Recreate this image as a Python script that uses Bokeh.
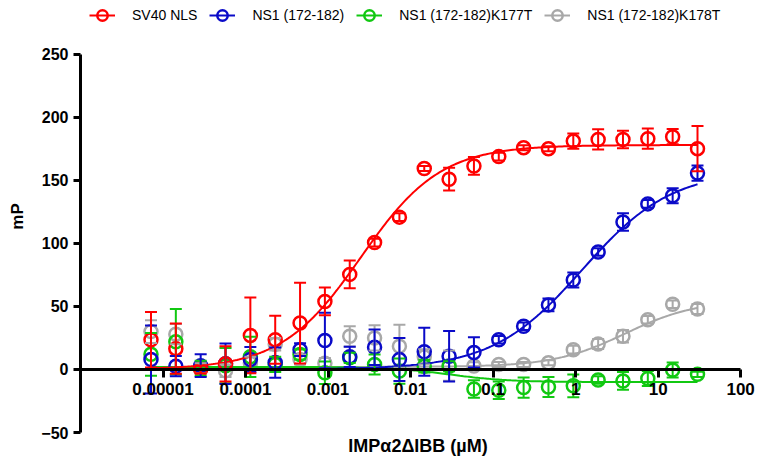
import numpy as np
from bokeh.plotting import figure
from bokeh.models import (LinearAxis, FixedTicker, CustomJSTickFormatter, Whisker, TeeHead,
                          ColumnDataSource, Legend, LegendItem, Range1d)
from bokeh.embed import file_html
from bokeh.resources import INLINE

# ---------------- data ----------------
conc_uM = [7.15e-6, 1.43e-5, 2.86e-5, 5.72e-5, 1.144e-4, 2.289e-4, 4.578e-4, 9.155e-4,
           1.831e-3, 3.662e-3, 7.324e-3, 1.465e-2, 2.930e-2, 5.859e-2, 0.1172, 0.2344,
           0.4688, 0.9375, 1.875, 3.75, 7.5, 15.0, 30.0]

sv40_mean = [23.6, 16.5, 0.0, 4.5, 27.0, 23.6, 36.8, 53.9, 75.4, 100.6, 120.8, 159.4,
             150.9, 161.4, 168.8, 175.9, 175.1, 181.1, 182.4, 182.4, 183.0, 184.6, 175.1]
sv40_sd = [22, 20, 3, 14, 30, 19, 32, 11, 11, 3, 3, 2, 9, 7, 3, 2, 2, 6, 8, 7, 8, 6, 18]

ns1_mean = [7.9, 2.6, 3.0, 4.5, 7.9, 5.5, 15.7, 23.0, 10.0, 17.6, 7.9, 14.0, 10.5, 13.5,
            23.6, 34.2, 51.2, 70.9, 93.2, 116.9, 131.3, 137.8, 155.7]
ns1_sd = [27, 8, 9, 16, 10, 12, 5, 22, 8, 14, 17, 19, 20, 12, 3, 3, 5, 6, 3, 7, 3, 6, 6]

k177t_mean = [12.0, 22.0, 1.0, 3.0, 10.0, 4.0, 11.8, -2.6, 9.2, 3.9, -1.3, 2.6, 2.6,
              -15.5, -16.5, -14.4, -13.9, -13.0, -8.3, -9.1, -7.2, -0.4, -3.9]
k177t_sd = [17, 26, 6, 14, 16, 6, 4, 9, 4, 8, 10, 5, 4, 7, 7, 8, 8, 9, 3, 7, 6, 6, 2]

k178t_mean = [30.0, 28.0, 1.0, -1.0, 5.0, 20.0, 7.9, 5.0, 26.3, 25.0, 18.4, 10.0, 3.0,
              2.7, 3.9, 3.9, 5.3, 15.7, 20.2, 26.3, 39.4, 51.7, 48.0]
k178t_sd = [9, 8, 4, 5, 5, 5, 4, 4, 8, 10, 17, 6, 12, 3, 2, 2, 2, 3, 4, 5, 3, 3, 4]

# fitted 4-parameter logistic curves: bottom, top, EC50 (uM), Hill slope
fit_sv40 = (0.0, 178.0, 0.0025, 0.9)
fit_ns1 = (0.0, 158.0, 1.2, 0.8)
fit_k177t = (2.0, -10.0, 0.03, 1.2)
fit_k178t = (2.0, 55.0, 4.0, 1.0)

series_names = ["SV40 NLS", "NS1 (172-182)", "NS1 (172-182)K177T", "NS1 (172-182)K178T"]
series_colors = ["#FF0000", "#0A0AC8", "#11C811", "#A8A8A8"]

y_ticks = [-50, 0, 50, 100, 150, 200, 250]
y_axis_start, y_axis_end = -50, 250
x_ticks = [1e-5, 1e-4, 1e-3, 1e-2, 1e-1, 1, 10, 100]
x_axis_start, x_axis_end = 1e-6, 100

# ---------------- figure ----------------
FONT = "Liberation Sans"
# the frame runs a little past the axis ends (above 250 for the legend,
# right of 100 for the last tick label); the axis lines stop at the axis ends
p = figure(width=755, height=458, x_axis_type="log",
           x_range=Range1d(x_axis_start, 10 ** 2.18), y_range=Range1d(y_axis_start, 292.6),
           output_backend="svg", toolbar_location=None,
           min_border_left=80, min_border_right=0, min_border_top=0, min_border_bottom=24)
p.grid.visible = False
p.outline_line_color = None
p.background_fill_color = "white"
p.border_fill_color = "white"

# x axis crossing at y = 0, line ending at 100
xa = p.xaxis[0]
xa.fixed_location = 0
xa.bounds = (x_axis_start, x_axis_end)
xa.ticker = FixedTicker(ticks=x_ticks, minor_ticks=[])
xa.formatter = CustomJSTickFormatter(code="""
    if (tick >= 1) { return tick.toFixed(0); }
    const d = Math.round(-Math.log10(tick));
    return tick.toFixed(d);
""")
xa.axis_line_width = 3
xa.axis_line_color = "black"
xa.major_tick_line_width = 3
xa.major_tick_out = 8
xa.major_tick_in = 0
xa.minor_tick_out = 0
xa.minor_tick_in = 0
xa.major_label_text_font = FONT
xa.major_label_text_font_style = "bold"
xa.major_label_text_font_size = "17px"
xa.major_label_text_color = "black"
xa.major_label_standoff = 6

# separate axis only for the x title at the bottom
title_axis = LinearAxis(ticker=FixedTicker(ticks=[]), axis_label="IMPα2ΔIBB (µM)",
                        axis_line_color=None, major_tick_out=0, major_tick_in=0,
                        minor_tick_out=0, minor_tick_in=0,
                        major_label_text_font_size="0px",
                        axis_label_standoff=3,
                        axis_label_text_font=FONT, axis_label_text_font_style="bold",
                        axis_label_text_font_size="18px", axis_label_text_color="black")
p.add_layout(title_axis, "below")

ya = p.yaxis[0]
ya.bounds = (y_axis_start, y_axis_end)
ya.ticker = FixedTicker(ticks=y_ticks, minor_ticks=[])
ya.axis_line_width = 3
ya.axis_line_color = "black"
ya.major_tick_line_width = 3
ya.major_tick_out = 7
ya.major_tick_in = 0
ya.minor_tick_out = 0
ya.minor_tick_in = 0
ya.major_label_text_font = FONT
ya.major_label_text_font_style = "bold"
ya.major_label_text_font_size = "16px"
ya.major_label_text_color = "black"
ya.major_label_standoff = 5
ya.axis_label = "mP"
ya.axis_label_standoff = 11
ya.axis_label_text_font = FONT
ya.axis_label_text_font_style = "bold"
ya.axis_label_text_font_size = "17px"
ya.axis_label_text_color = "black"


def logistic(x, params):
    bottom, top, ec50, hill = params
    return bottom + (top - bottom) / (1.0 + 10 ** ((np.log10(ec50) - np.log10(x)) * hill))


x_fit = np.logspace(np.log10(conc_uM[0]), np.log10(conc_uM[-1]), 300)

series = [
    (series_names[0], series_colors[0], sv40_mean, sv40_sd, fit_sv40),
    (series_names[1], series_colors[1], ns1_mean, ns1_sd, fit_ns1),
    (series_names[2], series_colors[2], k177t_mean, k177t_sd, fit_k177t),
    (series_names[3], series_colors[3], k178t_mean, k178t_sd, fit_k178t),
]

legend_items = {}
# draw gray first, red last (red on top)
for name, color, mean, sd, fit in reversed(series):
    mean_a = np.array(mean, dtype=float)
    sd_a = np.array(sd, dtype=float)
    src = ColumnDataSource(dict(x=conc_uM, y=mean_a, upper=mean_a + sd_a, lower=mean_a - sd_a))
    w = Whisker(source=src, base="x", upper="upper", lower="lower", dimension="height",
                line_color=color, line_width=2, level="glyph",
                upper_head=TeeHead(size=12, line_color=color, line_width=2),
                lower_head=TeeHead(size=12, line_color=color, line_width=2))
    p.add_layout(w)
    lr = p.line(x_fit, logistic(x_fit, fit), line_color=color, line_width=2)
    sr = p.scatter("x", "y", source=src, marker="circle", size=13, fill_color=None,
                   line_color=color, line_width=2.5)
    legend_items[name] = [lr, sr]

legend = Legend(items=[LegendItem(label=n, renderers=legend_items[n]) for n in series_names],
                orientation="horizontal", location=(9, 403),
                glyph_width=26, glyph_height=28, label_standoff=17, spacing=12,
                padding=0, margin=0, border_line_color=None, background_fill_alpha=0,
                label_text_font=FONT, label_text_font_size="14px", label_text_color="black")
p.add_layout(legend, "center")

open("out.html", "w").write(file_html(p, INLINE))
